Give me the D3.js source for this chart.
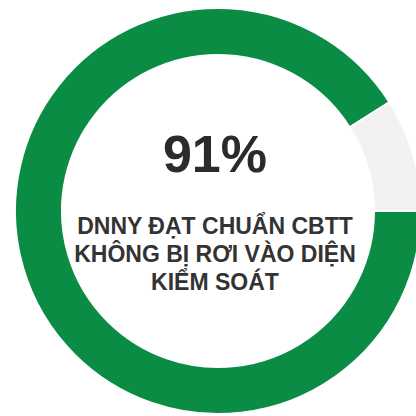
<!DOCTYPE html>
<html>
<head>
<meta charset="utf-8">
<script src="https://cdn.jsdelivr.net/npm/d3@7"></script>
<style>
  html, body { margin: 0; padding: 0; background: #fff; }
  svg { display: block; }
</style>
</head>
<body>
<svg id="chart" width="416" height="416"></svg>
<script>
// Share of enterprises that stayed out of the controlled list
const categories = ["Không bị rơi vào diện kiểm soát", "Còn lại"];
const values = [91, 9];
const colors = ["#0b8c45", "#f2f2f2"];
const headline = "91%";
const captionLines = ["DNNY ĐẠT CHUẨN CBTT", "KHÔNG BỊ RƠI VÀO DIỆN", "KIỂM SOÁT"];

const svg = d3.select("#chart");
const cx = 218, cy = 211;
const outerR = 203, innerR = 156;

const pie = d3.pie()
  .sort(null)
  .startAngle(Math.PI / 2)
  .endAngle(Math.PI / 2 + 2 * Math.PI)
  .value(d => d);

const arc = d3.arc().innerRadius(innerR).outerRadius(outerR);

const g = svg.append("g").attr("transform", `translate(${cx},${cy})`);

g.selectAll("path")
  .data(pie(values))
  .join("path")
  .attr("d", arc)
  .attr("fill", (d, i) => colors[i])
  .attr("stroke", "#fff")
  .attr("stroke-width", 2);

const textX = 215;

svg.append("text")
  .attr("x", textX)
  .attr("y", 172)
  .attr("text-anchor", "middle")
  .attr("font-family", "Liberation Sans, Arial, sans-serif")
  .attr("font-weight", "bold")
  .attr("font-size", 52)
  .attr("fill", "#2b2b2b")
  .text(headline);

svg.append("g")
  .selectAll("text")
  .data(captionLines)
  .join("text")
  .attr("x", textX)
  .attr("y", (d, i) => 234 + i * 28)
  .attr("text-anchor", "middle")
  .attr("font-family", "Liberation Sans, Arial, sans-serif")
  .attr("font-weight", "bold")
  .attr("font-size", 23)
  .attr("fill", "#333")
  .text(d => d);
</script>
</body>
</html>
